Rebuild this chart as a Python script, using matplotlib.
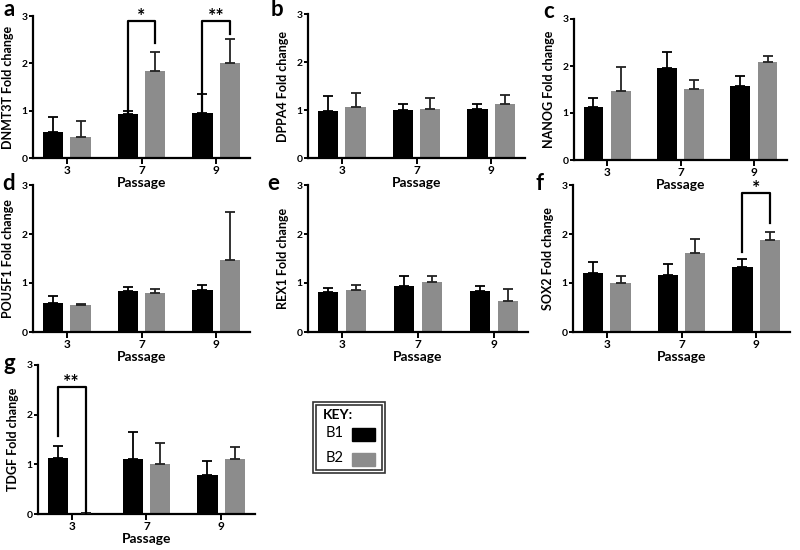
import numpy as np
import matplotlib
matplotlib.use('Agg')
import matplotlib.pyplot as plt
from matplotlib.patches import Rectangle

plt.rcParams['font.family'] = ['Lato', 'DejaVu Sans']
plt.rcParams['font.weight'] = 'bold'

# data
passages = ['3', '7', '9']
genes = ['DNMT3T', 'DPPA4', 'NANOG', 'POU5F1', 'REX1', 'SOX2', 'TDGF']
letters = ['a', 'b', 'c', 'd', 'e', 'f', 'g']

b1_mean = [[0.54, 0.93, 0.96],
           [0.98, 1.00, 1.02],
           [1.13, 1.96, 1.58],
           [0.60, 0.84, 0.86],
           [0.81, 0.93, 0.83],
           [1.21, 1.17, 1.33],
           [1.13, 1.10, 0.78]]
b1_err = [[0.33, 0.06, 0.40],
          [0.31, 0.12, 0.10],
          [0.19, 0.34, 0.20],
          [0.14, 0.08, 0.10],
          [0.08, 0.22, 0.10],
          [0.22, 0.21, 0.15],
          [0.23, 0.55, 0.29]]
b2_mean = [[0.44, 1.84, 2.00],
           [1.06, 1.03, 1.12],
           [1.47, 1.51, 2.08],
           [0.55, 0.79, 1.47],
           [0.85, 1.02, 0.63],
           [1.00, 1.62, 1.87],
           [0.02, 1.01, 1.11]]
b2_err = [[0.34, 0.41, 0.51],
          [0.30, 0.21, 0.19],
          [0.51, 0.20, 0.13],
          [0.03, 0.09, 0.98],
          [0.10, 0.13, 0.24],
          [0.15, 0.28, 0.18],
          [0.00, 0.41, 0.24]]

# significance brackets: panel index, group index, label, left leg bottom, right leg bottom, bracket top
signif = [(0, 1, '*', 0.95, 2.42, 2.90),
          (0, 2, '**', 0.90, 2.63, 2.90),
          (5, 2, '*', 1.64, 2.22, 2.83),
          (6, 0, '**', 1.57, 0.03, 2.55)]

W, H = 800, 550
# axes boxes in pixels: x left, x right, y top (value 3), y bottom (value 0)
boxes = [(33, 250, 16, 158), (308, 525, 14, 158), (574, 787, 19, 160),
         (33, 250, 185, 332), (308, 528, 185, 332), (573, 790, 185, 332),
         (38, 255, 365, 514)]
letter_pos = [(9, 9), (277, 9), (549, 11), (9, 183), (273, 183), (540, 183), (9, 363)]

black = '#000000'
gray = '#8c8c8c'
bw = 0.27
off = 0.185

fig = plt.figure(figsize=(8, 5.5), dpi=100)
x = np.arange(len(passages))

for i, gene in enumerate(genes):
    x0, x1, yt, yb = boxes[i]
    ax = fig.add_axes([x0 / W, 1 - yb / H, (x1 - x0) / W, (yb - yt) / H])
    ax.set_facecolor('none')
    ax.bar(x - off, b1_mean[i], bw, color=black, zorder=2)
    ax.bar(x + off, b2_mean[i], bw, color=gray, zorder=2)
    ax.errorbar(x - off, b1_mean[i], yerr=[np.zeros(3), b1_err[i]], fmt='none',
                ecolor='black', elinewidth=1.3, capsize=3.6, capthick=1.3, zorder=3)
    ax.errorbar(x + off, b2_mean[i], yerr=[np.zeros(3), b2_err[i]], fmt='none',
                ecolor='#222222', elinewidth=1.3, capsize=3.6, capthick=1.3, zorder=3)
    ax.set_xlim(-0.45, 2.45)
    ax.set_ylim(0, 3)
    ax.set_yticks([0, 1, 2, 3])
    ax.set_xticks(x)
    ax.set_xticklabels(passages)
    ax.spines['top'].set_visible(False)
    ax.spines['right'].set_visible(False)
    ax.spines['left'].set_linewidth(1.6)
    ax.spines['bottom'].set_linewidth(1.6)
    ax.tick_params(axis='y', length=3, width=1.4, labelsize=7.5, pad=1)
    ax.tick_params(axis='x', length=4, width=1.4, labelsize=8.5, pad=1)
    ax.set_ylabel(gene + ' Fold change', fontsize=9, fontweight='bold', labelpad=5)
    ax.set_xlabel('Passage', fontsize=10, fontweight='bold', labelpad=1)
    lx, ly = letter_pos[i]
    fig.text(lx / W, 1 - ly / H, letters[i], fontsize=16, fontweight='bold',
             ha='center', va='center')

    for p, g, lab, lb, rb, top in signif:
        if p != i:
            continue
        xl, xr = g - off, g + off
        ax.plot([xl, xl, xr, xr], [lb, top, top, rb], color='black', lw=1.6,
                clip_on=False, zorder=4)
        ax.text(g, top - 0.02, lab, ha='center', va='baseline', fontsize=14,
                fontweight='bold', clip_on=False)

# key box
kx0, kx1, ky0, ky1 = 313, 385, 402, 473
fig.patches.append(Rectangle((kx0 / W, 1 - ky1 / H), (kx1 - kx0) / W, (ky1 - ky0) / H,
                             transform=fig.transFigure, fill=False, ec='#333333', lw=1.2))
fig.patches.append(Rectangle(((kx0 + 3) / W, 1 - (ky1 - 3) / H), (kx1 - kx0 - 6) / W,
                             (ky1 - ky0 - 6) / H, transform=fig.transFigure,
                             fill=False, ec='#333333', lw=1.2))
fig.text(323 / W, 1 - 415 / H, 'KEY:', fontsize=10, fontweight='bold', va='center')
key_names = ['B1', 'B2']
key_cols = [black, gray]
for j, (nm, col) in enumerate(zip(key_names, key_cols)):
    yc = 433 + j * 25
    fig.text(326 / W, 1 - yc / H, nm, fontsize=10.5, fontweight='normal', va='center')
    fig.patches.append(Rectangle((352 / W, 1 - (yc + 8) / H), 23 / W, 13 / H,
                                 transform=fig.transFigure, color=col))

fig.savefig('out.png', dpi=100)
